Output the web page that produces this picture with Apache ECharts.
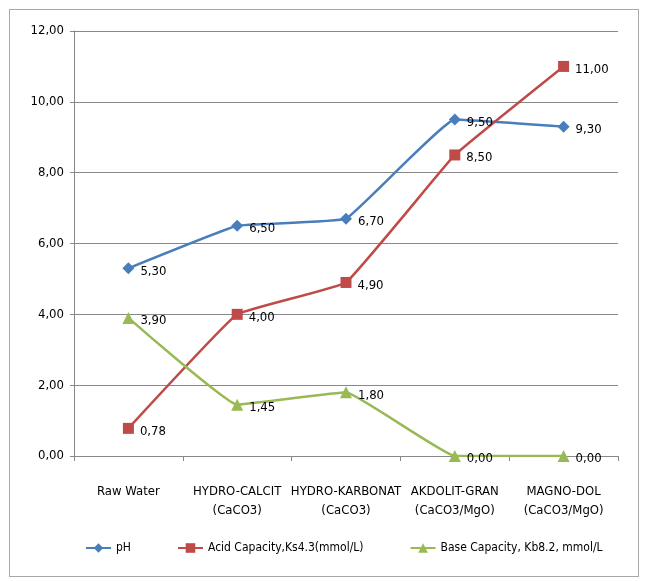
<!DOCTYPE html>
<html>
<head>
<meta charset="utf-8">
<script src="https://cdn.jsdelivr.net/npm/echarts@6/dist/echarts.min.js"></script>
<style>
  html, body { margin: 0; padding: 0; background: #fff; }
  #frame { position: absolute; left: 9px; top: 9px; width: 628px; height: 566px; border: 1px solid #a8a8a8; }
  #chart { width: 645px; height: 581px; }
</style>
</head>
<body>
<div id="frame"></div>
<div id="chart"></div>
<script>
// categories and series
const categories = ['Raw Water', 'HYDRO-CALCIT\n(CaCO3)', 'HYDRO-KARBONAT\n(CaCO3)', 'AKDOLIT-GRAN\n(CaCO3/MgO)', 'MAGNO-DOL\n(CaCO3/MgO)'];
const phValues = [5.30, 6.50, 6.70, 9.50, 9.30];
const acidValues = [0.78, 4.00, 4.90, 8.50, 11.00];
const baseValues = [3.90, 1.45, 1.80, 0.00, 0.00];
const seriesNames = ['pH', 'Acid Capacity,Ks4.3(mmol/L)', 'Base Capacity, Kb8.2, mmol/L'];

const FONT = "'DejaVu Sans Condensed', 'DejaVu Sans', sans-serif";
const fmt = v => v.toFixed(2).replace('.', ',');

function makeSeries(name, data, color, symbol, size) {
  return {
    name: name,
    type: 'line',
    data: data,
    smooth: 0.08,
    symbol: symbol,
    symbolSize: size,
    itemStyle: { color: color },
    lineStyle: { color: color, width: 2.5 },
    label: {
      show: true,
      position: 'right',
      distance: 6,
      offset: [0, 3],
      color: '#000',
      fontFamily: FONT,
      fontSize: 13,
      formatter: p => fmt(p.value)
    }
  };
}

const chart = echarts.init(document.getElementById('chart'));
chart.setOption({
  animation: false,
  grid: { left: 74, right: 27, top: 31, bottom: 125 },
  legend: {
    bottom: 22,
    left: 80,
    itemGap: 46,
    itemWidth: 25,
    itemHeight: 12,
    textStyle: { fontFamily: FONT, fontSize: 12, color: '#000' },
    data: seriesNames
  },
  xAxis: {
    type: 'category',
    data: categories,
    boundaryGap: true,
    axisLine: { lineStyle: { color: '#888', width: 1 } },
    axisTick: { show: true, alignWithLabel: false, length: 5, lineStyle: { color: '#888' } },
    axisLabel: { color: '#000', fontFamily: FONT, fontSize: 13, margin: 26, lineHeight: 19, interval: 0 }
  },
  yAxis: {
    type: 'value',
    min: 0,
    max: 12,
    interval: 2,
    axisLine: { show: true, lineStyle: { color: '#888', width: 1 } },
    axisTick: { show: true, length: 4, lineStyle: { color: '#888' } },
    splitLine: { lineStyle: { color: '#888', width: 1 } },
    axisLabel: { color: '#000', fontFamily: FONT, fontSize: 13, margin: 10, formatter: v => fmt(v) }
  },
  series: [
    makeSeries(seriesNames[0], phValues, '#4A7EBB', 'diamond', 12),
    makeSeries(seriesNames[1], acidValues, '#BE4B48', 'rect', 11),
    makeSeries(seriesNames[2], baseValues, '#98B954', 'triangle', 12)
  ]
});
</script>
</body>
</html>
